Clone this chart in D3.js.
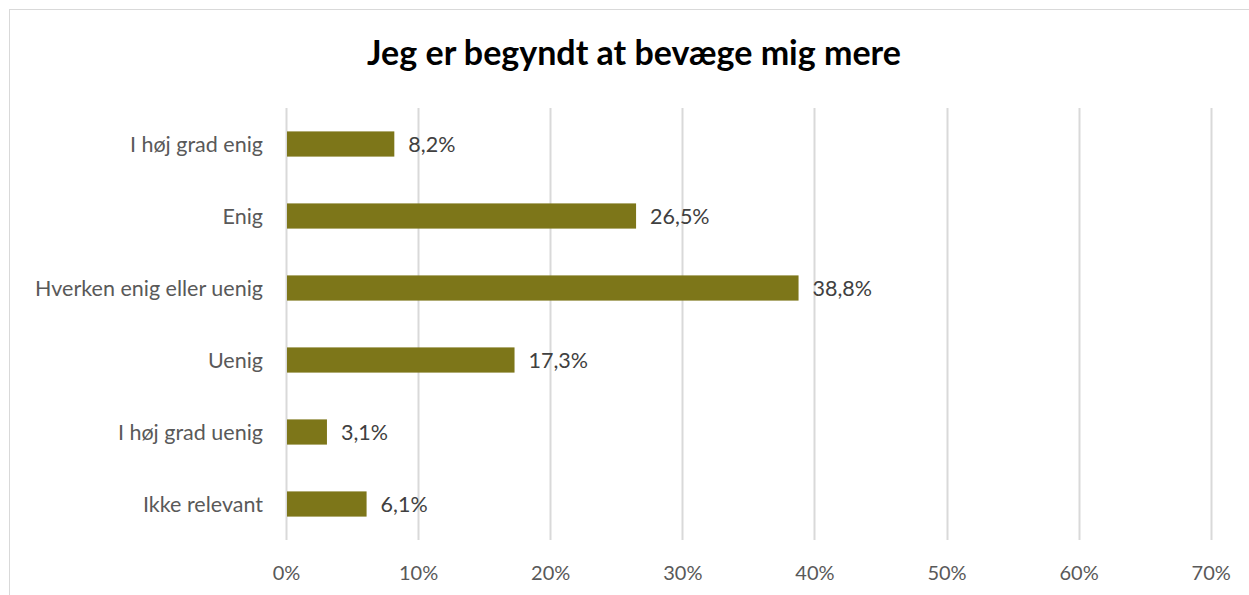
<!DOCTYPE html>
<html>
<head>
<meta charset="utf-8">
<script src="https://cdn.jsdelivr.net/npm/d3@7"></script>
<style>
  body { margin: 0; background: #fff; }
  text { font-family: Lato, "Open Sans", sans-serif; }
</style>
</head>
<body>
<script>
// Jeg er begyndt at bevæge mig mere - horizontal bars

var categories = ["I høj grad enig", "Enig", "Hverken enig eller uenig", "Uenig", "I høj grad uenig", "Ikke relevant"];
var values = [8.2, 26.5, 38.8, 17.3, 3.1, 6.1];
var ticks = [0, 10, 20, 30, 40, 50, 60, 70];
var title = "Jeg er begyndt at bevæge mig mere";

var width = 1249;
var height = 595;

var svg = d3.select("body").append("svg")
    .attr("width", width)
    .attr("height", height);

// chart frame
svg.append("rect")
    .attr("x", 9.5)
    .attr("y", 9.5)
    .attr("width", 1260)
    .attr("height", 600)
    .attr("fill", "#fff")
    .attr("stroke", "#d9d9d9")
    .attr("stroke-width", 1);

svg.append("text")
    .text(title)
    .attr("x", 634)
    .attr("y", 65)
    .attr("text-anchor", "middle")
    .style("font-size", "34px")
    .style("font-weight", "bold")
    .style("fill", "#000");

var x = d3.scaleLinear().domain([0, 70]).range([286, 1210.7]);
var y = d3.scaleBand().domain(categories).range([108, 540]).paddingInner(0.65).paddingOuter(0.325);

// gridlines
svg.selectAll(".grid")
    .data(ticks)
    .enter().append("line")
    .attr("x1", function(d) { return Math.round(x(d)) + 0.5; })
    .attr("x2", function(d) { return Math.round(x(d)) + 0.5; })
    .attr("y1", 108)
    .attr("y2", 540)
    .attr("stroke", "#d9d9d9")
    .attr("stroke-width", 2);

// x axis labels
var xAxis = d3.axisBottom(x).tickValues(ticks).tickSize(0).tickPadding(0)
    .tickFormat(function(d) { return d + "%"; });
var gx = svg.append("g").attr("transform", "translate(0,580)").call(xAxis);
gx.select(".domain").remove();
gx.selectAll("text")
    .attr("dy", 0)
    .style("font-family", "Lato, 'Open Sans', sans-serif")
    .style("font-size", "20px")
    .style("fill", "#595959");

// y axis labels
var yAxis = d3.axisLeft(y).tickSize(0).tickPadding(0);
var gy = svg.append("g").attr("transform", "translate(263,0)").call(yAxis);
gy.select(".domain").remove();
gy.selectAll("text")
    .attr("dy", "0.35em")
    .style("font-family", "Lato, 'Open Sans', sans-serif")
    .style("font-size", "21.5px")
    .style("fill", "#595959");

// bars
svg.selectAll(".bar")
    .data(values)
    .enter().append("rect")
    .attr("x", x(0) + 1)
    .attr("y", function(d, i) { return y(categories[i]); })
    .attr("width", function(d) { return x(d) - x(0) - 1; })
    .attr("height", y.bandwidth())
    .attr("fill", "#7D7619");

// value labels
svg.selectAll(".lbl")
    .data(values)
    .enter().append("text")
    .text(function(d) { return d.toFixed(1).replace(".", ",") + "%"; })
    .attr("x", function(d) { return x(d) + 14; })
    .attr("y", function(d, i) { return y(categories[i]) + y.bandwidth() / 2; })
    .attr("dy", "0.35em")
    .style("font-size", "21.5px")
    .style("fill", "#404040");
</script>
</body>
</html>
